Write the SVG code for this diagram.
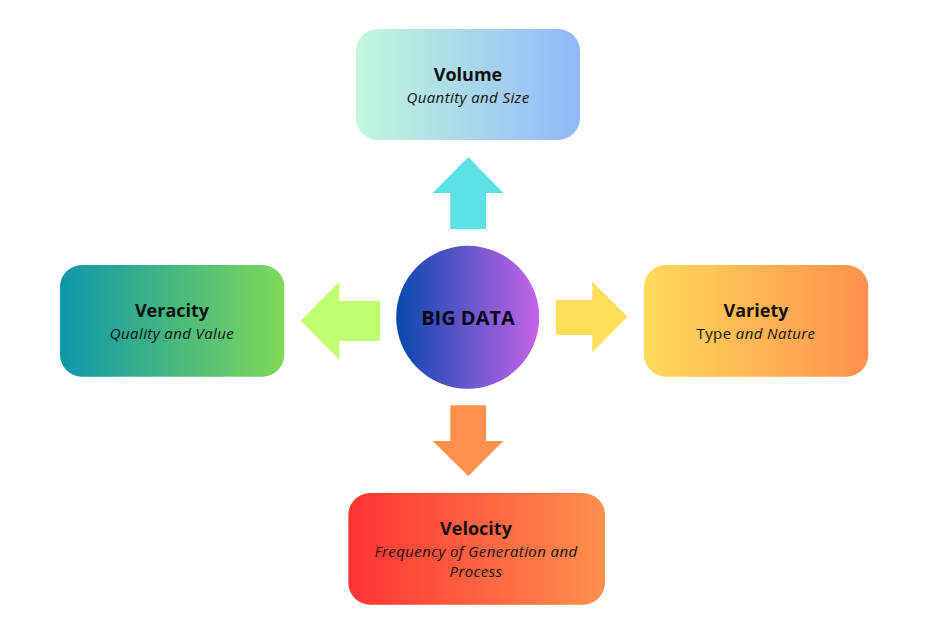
<svg xmlns="http://www.w3.org/2000/svg" width="937" height="637" viewBox="0 0 937 637">
<defs>
<linearGradient id="gVol" x1="0" x2="1" y1="0" y2="0"><stop offset="0" stop-color="#c3f7dc"/><stop offset="1" stop-color="#92b8f9"/></linearGradient>
<linearGradient id="gVer" x1="0" x2="1" y1="0" y2="0"><stop offset="0" stop-color="#0d97aa"/><stop offset="1" stop-color="#7fd957"/></linearGradient>
<linearGradient id="gVar" x1="0" x2="1" y1="0" y2="0"><stop offset="0" stop-color="#ffda5a"/><stop offset="1" stop-color="#ff914d"/></linearGradient>
<linearGradient id="gVel" x1="0" x2="1" y1="0" y2="0"><stop offset="0" stop-color="#ff3333"/><stop offset="1" stop-color="#ff904d"/></linearGradient>
<linearGradient id="gBig" x1="0" x2="1" y1="0" y2="0"><stop offset="0" stop-color="#0748ae"/><stop offset="1" stop-color="#c764e8"/></linearGradient>
</defs>
<style>
.t{font-family:"Open Sans","Liberation Sans",sans-serif;font-weight:700;font-size:18px;fill:#111;text-anchor:middle}
.s{font-family:"Open Sans","Liberation Sans",sans-serif;font-style:italic;font-size:15px;letter-spacing:0.4px;fill:#111;text-anchor:middle}
.n{font-style:normal}
.big{font-family:"Open Sans","Liberation Sans",sans-serif;font-weight:700;font-size:20px;fill:#0a0a1a;text-anchor:middle}
</style>
<g id="connectors">
<polygon points="468.3,157 503.3,193 486,193 486,229 450.3,229 450.3,193 432.7,193" fill="#5ce1e6"/>
<polygon points="300.7,320.7 339.3,281.7 339.3,301 380,301 380,341 339.3,341 339.3,360" fill="#c1ff72"/>
<polygon points="627.3,316.7 592.3,281.7 592.3,299.7 556,299.7 556,335 592.3,335 592.3,352.3" fill="#ffde59"/>
<polygon points="468.3,476 503.3,441 486,441 486,405.3 450.3,405.3 450.3,441 432.7,441" fill="#ff914d"/>
</g>
<g id="bigdata">
<circle cx="467.7" cy="317.3" r="71.5" fill="url(#gBig)"/>
<text class="big" x="468" y="324.5">BIG DATA</text>
</g>
<g id="volume">
<rect x="356" y="29" width="224" height="111" rx="22" fill="url(#gVol)"/>
<text class="t" x="468" y="80.5">Volume</text>
<text class="s" x="468" y="102.5">Quantity and Size</text>
</g>
<g id="veracity">
<rect x="60" y="265" width="224.3" height="111.7" rx="22" fill="url(#gVer)"/>
<text class="t" x="172" y="317">Veracity</text>
<text class="s" x="172" y="339">Quality and Value</text>
</g>
<g id="variety">
<rect x="644" y="265" width="224.3" height="111.7" rx="22" fill="url(#gVar)"/>
<text class="t" x="756" y="317">Variety</text>
<text class="s" x="756" y="339"><tspan class="n">Type</tspan> and Nature</text>
</g>
<g id="velocity">
<rect x="348.3" y="493" width="256.7" height="111.7" rx="22" fill="url(#gVel)"/>
<text class="t" x="476" y="535">Velocity</text>
<text class="s" x="476" y="556.5">Frequency of Generation and</text>
<text class="s" x="476" y="576.5">Process</text>
</g>
</svg>
